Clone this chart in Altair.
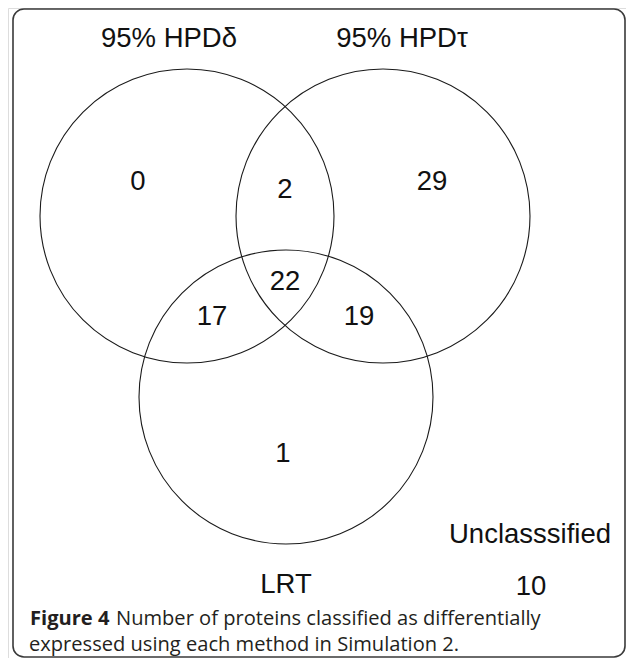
import altair as alt
import pandas as pd

# ---- data: counts in each Venn region ----
set_names = ["95% HPDδ", "95% HPDτ", "LRT"]
region_names = ["δ only", "τ only", "LRT only", "δ∩τ", "δ∩LRT", "τ∩LRT", "all three"]
region_counts = [0, 29, 1, 2, 17, 19, 22]
unclassified_label = "Unclasssified"
unclassified_count = 10
caption_bold = "Figure 4"
caption_rest = "Number of proteins classified as differentially"
caption_line2 = "expressed using each method in Simulation 2."

# ---- layout (pixel coordinates of the page) ----
circle_cx = [187, 383, 286]
circle_cy = [216, 216, 397]
circle_r = 147
set_label_x = [169, 402, 286]
set_label_y = [47, 47, 593]
region_x = [138, 432, 283, 285, 212, 359, 285]
region_y = [190, 190, 462, 198, 325, 325, 290]

W, H = 618, 650
xs = alt.Scale(domain=[8, 8 + W], range=[0, W])
ys = alt.Scale(domain=[8, 8 + H], range=[0, H])
X = lambda f: alt.X(f, type="quantitative", scale=xs, axis=None)
Y = lambda f: alt.Y(f, type="quantitative", scale=ys, axis=None)

circles = pd.DataFrame({"set": set_names, "cx": circle_cx, "cy": circle_cy})
labels = pd.DataFrame({"set": set_names, "x": set_label_x, "y": set_label_y})
regions = pd.DataFrame({"region": region_names, "n": [str(v) for v in region_counts],
                        "x": region_x, "y": region_y})
uncl = pd.DataFrame({"t": [unclassified_label, str(unclassified_count)],
                     "x": [530, 531], "y": [543, 595]})
frame = pd.DataFrame({"x": [13], "x2": [625], "y": [9], "y2": [657]})
cap_b = pd.DataFrame({"t": [caption_bold], "x": [30], "y": [625]})
cap_r = pd.DataFrame({"t": [caption_rest, caption_line2], "x": [116, 29], "y": [625, 651]})

border = alt.Chart(frame).mark_rect(
    fill="white", fillOpacity=0, stroke="#3a3a3a", strokeWidth=1.6, cornerRadius=11
).encode(x=X("x"), x2="x2", y=Y("y"), y2="y2")

circ = alt.Chart(circles).mark_point(
    shape="circle", filled=False, size=(2 * circle_r) ** 2, color="#1a1a1a",
    strokeWidth=1.1, opacity=1
).encode(x=X("cx"), y=Y("cy"))

txt_style = dict(font="Liberation Sans", fontSize=27.5, color="#111111",
                 align="center", baseline="alphabetic")

set_txt = alt.Chart(labels).mark_text(**txt_style).encode(x=X("x"), y=Y("y"), text="set:N")
reg_txt = alt.Chart(regions).mark_text(**txt_style).encode(x=X("x"), y=Y("y"), text="n:N")
unc_txt = alt.Chart(uncl).mark_text(**txt_style).encode(x=X("x"), y=Y("y"), text="t:N")

cap1 = alt.Chart(cap_b).mark_text(
    font="Open Sans", fontSize=20.1, fontWeight="bold", color="#231f20",
    align="left", baseline="alphabetic"
).encode(x=X("x"), y=Y("y"), text="t:N")
cap2 = alt.Chart(cap_r).mark_text(
    font="Open Sans", fontSize=20.1, color="#231f20",
    align="left", baseline="alphabetic"
).encode(x=X("x"), y=Y("y"), text="t:N")

chart = alt.layer(border, circ, set_txt, reg_txt, unc_txt, cap1, cap2).properties(
    width=W, height=H, padding=0, autosize=alt.AutoSizeParams(type="none")
).configure_view(stroke=None).configure(background="white")

chart.save("out.html", embed_options={"renderer": "svg", "actions": False})
